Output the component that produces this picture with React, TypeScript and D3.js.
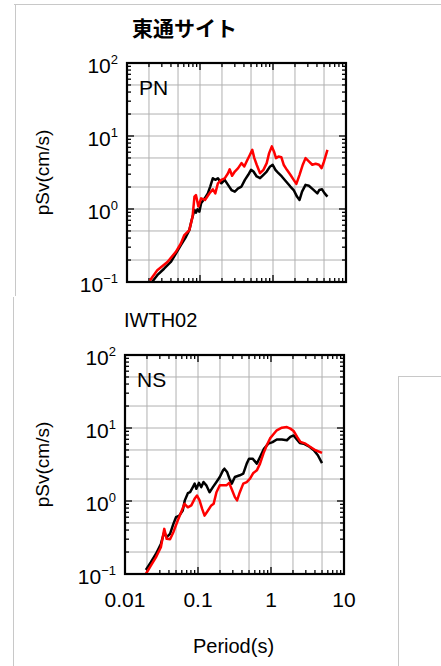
import React, { useRef, useEffect } from "react";
import * as d3 from "d3";

const width = 441;
const height = 666;

// PN component (top panel)
const pnRedPeriod = [0.0206, 0.026, 0.0358, 0.0467, 0.0547, 0.061, 0.0714, 0.079, 0.084, 0.088, 0.095, 0.1035, 0.117, 0.135, 0.15, 0.162, 0.176, 0.196, 0.218, 0.242, 0.255, 0.275, 0.3, 0.333, 0.37, 0.404, 0.435, 0.483, 0.52, 0.555, 0.598, 0.665, 0.74, 0.82, 0.885, 0.964, 1.03, 1.1, 1.19, 1.3, 1.4, 1.55, 1.73, 1.92, 2.09, 2.31, 2.56, 2.79, 3.1, 3.45, 3.84, 4.27, 4.64, 5.0, 5.57];
const pnRed = [0.105, 0.145, 0.188, 0.259, 0.337, 0.44, 0.514, 0.78, 1.48, 1.55, 1.08, 1.4, 1.33, 1.64, 1.86, 1.64, 2.25, 2.51, 2.63, 3.09, 3.5, 2.85, 3.26, 3.63, 4.25, 3.83, 4.48, 5.53, 6.46, 4.98, 4.04, 3.09, 3.44, 4.25, 5.83, 7.2, 6.15, 4.98, 5.25, 5.13, 4.04, 3.44, 2.94, 2.51, 2.21, 2.94, 4.04, 4.98, 4.48, 4.04, 4.17, 4.04, 3.63, 4.48, 6.46];
const pnBlackPeriod = [0.022, 0.026, 0.0322, 0.0398, 0.0467, 0.0547, 0.0643, 0.0714, 0.0769, 0.084, 0.088, 0.0925, 0.098, 0.1035, 0.116, 0.128, 0.138, 0.15, 0.162, 0.176, 0.196, 0.218, 0.242, 0.27, 0.3, 0.333, 0.37, 0.412, 0.458, 0.5, 0.54, 0.598, 0.665, 0.74, 0.82, 0.914, 0.99, 1.08, 1.19, 1.32, 1.51, 1.73, 1.92, 2.13, 2.31, 2.5, 2.79, 3.1, 3.53, 4.05, 4.3, 4.7, 5.1, 5.57];
const pnBlack = [0.1, 0.124, 0.152, 0.188, 0.245, 0.32, 0.416, 0.514, 0.706, 0.97, 0.89, 0.99, 0.92, 1.2, 1.4, 1.64, 2.03, 2.64, 2.51, 2.64, 2.25, 2.51, 2.14, 1.82, 1.73, 1.92, 2.03, 2.51, 2.94, 3.44, 3.26, 2.79, 2.64, 2.94, 3.26, 3.83, 4.04, 3.44, 3.09, 2.79, 2.38, 2.03, 1.82, 1.48, 1.33, 1.73, 2.14, 2.08, 1.86, 1.64, 1.82, 1.86, 1.64, 1.48];

// NS component (bottom panel)
const nsRedPeriod = [0.0193, 0.0226, 0.0265, 0.031, 0.0345, 0.0372, 0.0414, 0.046, 0.0528, 0.0587, 0.0653, 0.0726, 0.081, 0.0898, 0.097, 0.105, 0.114, 0.123, 0.137, 0.152, 0.164, 0.179, 0.199, 0.22, 0.245, 0.267, 0.288, 0.32, 0.343, 0.374, 0.417, 0.465, 0.516, 0.573, 0.64, 0.708, 0.787, 0.875, 0.97, 1.08, 1.2, 1.41, 1.65, 1.84, 2.04, 2.28, 2.53, 2.97, 3.47, 4.07, 5.0];
const nsRed = [0.1, 0.13, 0.169, 0.232, 0.415, 0.303, 0.3, 0.374, 0.541, 0.7, 0.916, 0.82, 0.87, 1.07, 1.19, 1.02, 0.78, 0.63, 0.74, 0.87, 0.92, 1.32, 1.64, 1.64, 1.64, 1.77, 1.47, 1.13, 1.02, 1.32, 1.73, 1.82, 2.02, 2.42, 2.63, 3.25, 4.46, 5.8, 7.2, 8.2, 9.3, 10.1, 10.3, 9.8, 9.1, 7.55, 6.45, 6.1, 5.5, 4.96, 4.55];
const nsBlackPeriod = [0.0193, 0.0226, 0.0265, 0.031, 0.0345, 0.0372, 0.0414, 0.046, 0.05, 0.0555, 0.0618, 0.066, 0.0726, 0.078, 0.085, 0.09, 0.095, 0.103, 0.111, 0.119, 0.13, 0.144, 0.16, 0.179, 0.199, 0.22, 0.23, 0.25, 0.27, 0.29, 0.32, 0.374, 0.417, 0.465, 0.5, 0.56, 0.64, 0.708, 0.8, 0.92, 1.05, 1.2, 1.41, 1.65, 1.84, 2.04, 2.23, 2.48, 2.8, 3.3, 3.86, 4.38, 5.0];
const nsBlack = [0.114, 0.145, 0.188, 0.258, 0.374, 0.32, 0.354, 0.486, 0.6, 0.63, 0.74, 1.02, 1.28, 1.32, 1.55, 1.73, 1.47, 1.77, 1.55, 1.82, 1.64, 1.32, 1.55, 1.82, 2.13, 2.63, 2.77, 2.5, 2.02, 1.73, 2.13, 2.25, 2.37, 3.25, 3.8, 3.8, 3.25, 4.0, 5.2, 6.1, 6.4, 6.95, 6.95, 6.8, 7.55, 7.9, 7.1, 6.25, 6.1, 5.6, 4.96, 4.23, 3.3];

const xTickValues = [0.01, 0.1, 1, 10];
const xTickLabels = ["0.01", "0.1", "1", "10"];
const yTickValues = [100, 10, 1, 0.1];
const yTickExp = ["2", "1", "0", "\u22121"];

const font = "'Liberation Sans', Arial, sans-serif";

const App = () => {
  const ref = useRef(null);

  useEffect(() => {
    const svg = d3.select(ref.current);
    svg.selectAll("*").remove();
    svg.attr("width", width).attr("height", height);

    // gray frame lines of the composite figure
    const frame = [
      [14, 4.5, 441, 4.5],
      [15.5, 4, 15.5, 296],
      [13.5, 297, 13.5, 666],
      [398.5, 376, 398.5, 666],
      [398, 376.5, 441, 376.5],
    ];
    svg.selectAll("line.frame").data(frame).enter().append("line")
      .attr("class", "frame")
      .attr("x1", (d) => d[0]).attr("y1", (d) => d[1])
      .attr("x2", (d) => d[2]).attr("y2", (d) => d[3])
      .attr("stroke", "#c8c8c8").attr("stroke-width", 1);

    svg.append("text")
      .attr("x", 132).attr("y", 36)
      .style("font-family", "'Noto Sans CJK JP', sans-serif")
      .style("font-weight", "bold")
      .style("font-size", "21px")
      .text("東通サイト");

    svg.append("text")
      .attr("x", 124).attr("y", 327)
      .style("font-family", font)
      .style("font-size", "20px")
      .text("IWTH02");

    const drawPanel = (left, top, label, red, redP, black, blackP, showX) => {
      const size = 219;
      const x = d3.scaleLog().domain([0.01, 10]).range([left, left + size]);
      const y = d3.scaleLog().domain([0.1, 100]).range([top + size, top]);
      const g = svg.append("g");

      // grid at 1, 2, 5 of each decade
      const gridX = [0.01, 0.1, 1].flatMap((d) => [1, 2, 5].map((k) => d * k)).filter((v) => v > 0.01);
      const gridY = [0.1, 1, 10].flatMap((d) => [1, 2, 5].map((k) => d * k)).filter((v) => v > 0.1);
      g.selectAll("line.gx").data(gridX).enter().append("line")
        .attr("x1", (d) => x(d)).attr("x2", (d) => x(d))
        .attr("y1", top).attr("y2", top + size)
        .attr("stroke", "#b0b0b0").attr("stroke-width", 1);
      g.selectAll("line.gy").data(gridY).enter().append("line")
        .attr("y1", (d) => y(d)).attr("y2", (d) => y(d))
        .attr("x1", left).attr("x2", left + size)
        .attr("stroke", "#b0b0b0").attr("stroke-width", 1);

      // inward ticks on all four sides
      const tickX = [];
      [0.01, 0.1, 1].forEach((d) => d3.range(1, 10).forEach((k) => tickX.push({ v: d * k, major: k === 1 })));
      tickX.push({ v: 10, major: true });
      const tickY = [];
      [0.1, 1, 10].forEach((d) => d3.range(1, 10).forEach((k) => tickY.push({ v: d * k, major: k === 1 })));
      tickY.push({ v: 100, major: true });
      const len = (d) => (d.major ? 7 : 4);
      g.selectAll("line.tb").data(tickX).enter().append("line")
        .attr("x1", (d) => x(d.v)).attr("x2", (d) => x(d.v))
        .attr("y1", top + size).attr("y2", (d) => top + size - len(d))
        .attr("stroke", "#000").attr("stroke-width", 1.3);
      g.selectAll("line.tt").data(tickX).enter().append("line")
        .attr("x1", (d) => x(d.v)).attr("x2", (d) => x(d.v))
        .attr("y1", top).attr("y2", (d) => top + len(d))
        .attr("stroke", "#000").attr("stroke-width", 1.3);
      g.selectAll("line.tl").data(tickY).enter().append("line")
        .attr("y1", (d) => y(d.v)).attr("y2", (d) => y(d.v))
        .attr("x1", left).attr("x2", (d) => left + len(d))
        .attr("stroke", "#000").attr("stroke-width", 1.3);
      g.selectAll("line.tr").data(tickY).enter().append("line")
        .attr("y1", (d) => y(d.v)).attr("y2", (d) => y(d.v))
        .attr("x1", left + size).attr("x2", (d) => left + size - len(d))
        .attr("stroke", "#000").attr("stroke-width", 1.3);

      const line = d3.line().x((d) => x(d[0])).y((d) => y(d[1]));
      g.append("path")
        .datum(blackP.map((p, i) => [p, black[i]]))
        .attr("d", line).attr("fill", "none")
        .attr("stroke", "#000").attr("stroke-width", 2.5)
        .attr("stroke-linejoin", "round");
      g.append("path")
        .datum(redP.map((p, i) => [p, red[i]]))
        .attr("d", line).attr("fill", "none")
        .attr("stroke", "#ff0000").attr("stroke-width", 2.5)
        .attr("stroke-linejoin", "round");

      g.append("rect")
        .attr("x", left).attr("y", top).attr("width", size).attr("height", size)
        .attr("fill", "none").attr("stroke", "#000").attr("stroke-width", 2.2);

      g.append("text")
        .attr("x", left + 12).attr("y", top + 32)
        .style("font-family", font).style("font-size", "21px")
        .text(label);

      // y tick labels 10^n
      yTickValues.forEach((v, i) => {
        const t = g.append("text")
          .attr("x", left - 9).attr("y", y(v) + 10)
          .attr("text-anchor", "end")
          .style("font-family", font).style("font-size", "21px");
        t.append("tspan").text("10");
        t.append("tspan").attr("dy", -9).style("font-size", "13px").text(yTickExp[i]);
      });

      g.append("text")
        .attr("transform", `translate(49, ${top + size / 2}) rotate(-90)`)
        .attr("text-anchor", "middle")
        .style("font-family", font).style("font-size", "19px")
        .text("pSv(cm/s)");

      if (showX) {
        xTickValues.forEach((v, i) => {
          g.append("text")
            .attr("x", x(v)).attr("y", top + size + 33)
            .attr("text-anchor", "middle")
            .style("font-family", font).style("font-size", "21px")
            .text(xTickLabels[i]);
        });
        g.append("text")
          .attr("x", left + size / 2 - 1).attr("y", top + size + 79)
          .attr("text-anchor", "middle")
          .style("font-family", font).style("font-size", "20px")
          .text("Period(s)");
      }
    };

    drawPanel(127, 63, "PN", pnRed, pnRedPeriod, pnBlack, pnBlackPeriod, false);
    drawPanel(125, 355, "NS", nsRed, nsRedPeriod, nsBlack, nsBlackPeriod, true);
  }, []);

  return (
    <div id="chart">
      <svg ref={ref} style={{ position: "absolute", left: 0, top: 0, background: "#fff" }}></svg>
    </div>
  );
};
export default App;
